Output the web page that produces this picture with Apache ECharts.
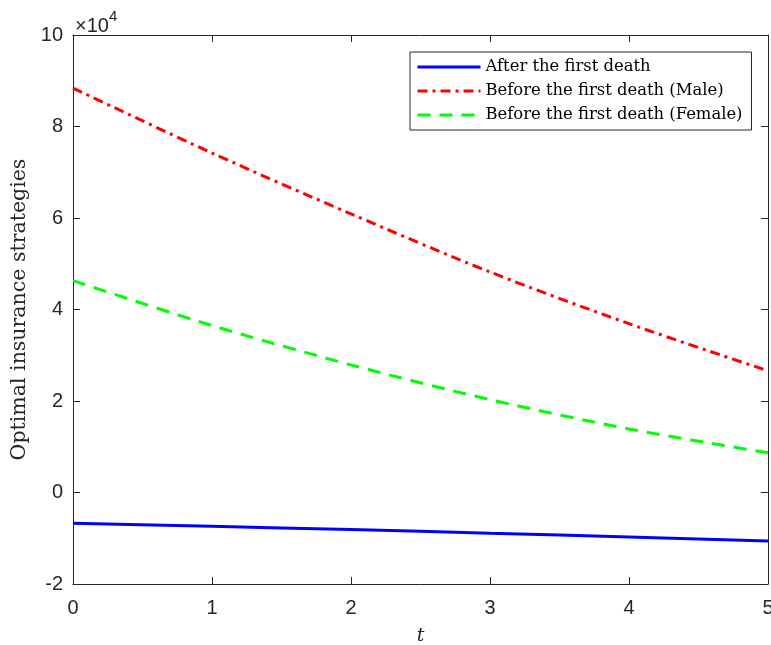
<!DOCTYPE html>
<html>
<head>
<meta charset="utf-8">
<script src="https://cdn.jsdelivr.net/npm/echarts@6/dist/echarts.min.js"></script>
<style>html,body{margin:0;padding:0;background:#fff;}#c{width:771px;height:645px;}</style>
</head>
<body>
<div id="c"></div>
<script>
const tValues = [0, 1, 2, 3, 4, 5];
const afterDeath = [-0.67, -0.74, -0.81, -0.89, -0.97, -1.06];
const beforeMale = [8.84, 7.42, 6.09, 4.82, 3.69, 2.66];
const beforeFemale = [4.63, 3.65, 2.79, 2.03, 1.39, 0.87];
const seriesNames = ['After the first death', 'Before the first death (Male)', 'Before the first death (Female)'];
const yTicks = [-2, 0, 2, 4, 6, 8, 10];
const xTicks = [0, 1, 2, 3, 4, 5];

const pair = arr => tValues.map((t, i) => [t, arr[i]]);
const axisCol = '#262626';
const sans = '"Liberation Sans", Arial, sans-serif';
const serif = '"DejaVu Serif", "Liberation Serif", serif';

const chart = echarts.init(document.getElementById('c'), null, {renderer: 'canvas'});
const baseX = {
  type: 'value', min: xTicks[0], max: xTicks[xTicks.length - 1], interval: 1,
  axisLine: {show: true, onZero: false, lineStyle: {color: axisCol, width: 1}},
  axisTick: {show: true, inside: true, length: 7, lineStyle: {color: axisCol}},
  splitLine: {show: false}
};
const baseY = {
  type: 'value', min: yTicks[0], max: yTicks[yTicks.length - 1], interval: 2,
  axisLine: {show: true, onZero: false, lineStyle: {color: axisCol, width: 1}},
  axisTick: {show: true, inside: true, length: 7, lineStyle: {color: axisCol}},
  splitLine: {show: false}
};
chart.setOption({
  animation: false,
  backgroundColor: '#fff',
  grid: {left: 73, right: 3, top: 35, bottom: 61, containLabel: false, outerBoundsMode: 'none'},
  xAxis: [
    Object.assign({}, baseX, {
      position: 'bottom',
      axisLabel: {show: true, color: axisCol, fontFamily: sans, fontSize: 20, margin: 14},
      name: 't', nameLocation: 'middle', nameGap: 43,
      nameTextStyle: {fontFamily: serif, fontStyle: 'italic', fontSize: 19, color: axisCol}
    }),
    Object.assign({}, baseX, {position: 'top', axisLabel: {show: false}})
  ],
  yAxis: [
    Object.assign({}, baseY, {
      position: 'left',
      axisLabel: {show: true, color: axisCol, fontFamily: sans, fontSize: 20, margin: 10},
      name: 'Optimal insurance strategies', nameLocation: 'middle', nameGap: 42, nameRotate: 90,
      nameTextStyle: {fontFamily: serif, fontSize: 20.5, color: axisCol}
    }),
    Object.assign({}, baseY, {position: 'right', axisLabel: {show: false}})
  ],
  legend: {
    orient: 'vertical', left: 410, top: 52,
    backgroundColor: '#fff', borderColor: axisCol, borderWidth: 1,
    padding: [7, 9, 7, 6], itemGap: 8, itemWidth: 63, itemHeight: 16,
    itemStyle: {opacity: 0, borderWidth: 0, color: 'transparent'},
    lineStyle: {width: 3},
    textStyle: {fontFamily: serif, fontSize: 16.4, color: '#000'},
    data: seriesNames
  },
  series: [
    {name: seriesNames[0], type: 'line', data: pair(afterDeath), showSymbol: false, symbol: 'none', smooth: 0.3,
     lineStyle: {color: '#0000ff', width: 3, type: 'solid'}, itemStyle: {color: '#0000ff'}},
    {name: seriesNames[1], type: 'line', data: pair(beforeMale), showSymbol: false, symbol: 'none', smooth: 0.3,
     lineStyle: {color: '#ff0000', width: 3, type: [10, 5, 3, 5]}, itemStyle: {color: '#ff0000'}},
    {name: seriesNames[2], type: 'line', data: pair(beforeFemale), showSymbol: false, symbol: 'none', smooth: 0.3,
     lineStyle: {color: '#00ff00', width: 3, type: [13, 9]}, itemStyle: {color: '#00ff00'}}
  ],
  graphic: [{
    type: 'text', left: 75, top: 9,
    style: {
      text: '{a|×10}{b|4}',
      rich: {
        a: {fontFamily: sans, fontSize: 20, fill: axisCol, verticalAlign: 'bottom'},
        b: {fontFamily: sans, fontSize: 15, fill: axisCol, verticalAlign: 'top', padding: [0, 0, 12, 0]}
      }
    }
  }]
});
</script>
</body>
</html>
